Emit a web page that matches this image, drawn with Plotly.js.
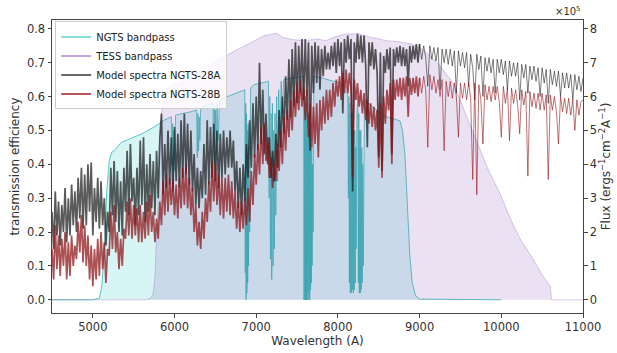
<!DOCTYPE html>
<html><head><meta charset="utf-8">
<script src="https://cdn.plot.ly/plotly-3.0.1.min.js"></script>
<style>html,body{margin:0;padding:0;background:#fff}#chart{width:617px;height:353px}</style>
</head><body><div id="chart"></div>
<script>
// ---- NGTS bandpass (transmission efficiency) ----
const waveNGTS = [4500,5000,5080,5110,5140,5170,5200,5230,5260,5350,5450,5600,5750,5870,5960,
 5970,5978,5986,5994,6002,6012,6100,6200,6270,6278,6286,6294,6302,6310,6320,6400,6470,6478,6486,6494,6502,6510,6520,6535,6550,6700,6860,
 6866,6871,6876,6881,6886,6891,6896,6901,6906,6912,6920,6932,6970,7150,
 7158,7166,7174,7182,7190,7198,7206,7214,7222,7230,7240,7250,7262,7275,7290,7305,7320,7335,7580,
 7585,7590,7595,7600,7605,7610,7615,7620,7625,7630,7635,7640,7645,7650,7655,7660,7665,7670,7675,7680,7685,7690,7697,7705,
 7800,7900,8030,8120,
 8128,8134,8140,8146,8152,8158,8164,8170,8176,8182,8188,8194,8200,8206,8212,8218,8224,8232,8244,8250,8256,8262,8268,8274,8280,8286,8292,8298,8304,8310,8318,8326,
 8400,8500,8600,8700,8760,8790,8820,8850,8880,8910,8950,9000,10000];
const transNGTS = [0,0,0.005,0.04,0.15,0.32,0.41,0.435,0.44,0.465,0.475,0.49,0.51,0.53,0.54,
 0.40,0.52,0.33,0.50,0.38,0.545,0.55,0.555,0.56,0.42,0.55,0.44,0.54,0.47,0.565,0.575,0.58,0.45,0.57,0.40,0.56,0.43,0.58,0.47,0.59,0.605,0.62,
 0.08,0.58,0.0,0.55,0.02,0.5,0.05,0.52,0.1,0.45,0.2,0.625,0.635,0.645,
 0.3,0.6,0.12,0.55,0.06,0.58,0.1,0.5,0.15,0.55,0.25,0.6,0.35,0.62,0.45,0.645,0.55,0.65,0.66,
 0.0,0.62,0.0,0.6,0.0,0.6,0.0,0.58,0.0,0.6,0.02,0.55,0.0,0.55,0.0,0.5,0.03,0.45,0.05,0.45,0.1,0.4,0.2,0.66,
 0.655,0.648,0.64,0.625,
 0.3,0.6,0.05,0.58,0.02,0.55,0.02,0.55,0.03,0.5,0.02,0.5,0.03,0.5,0.05,0.45,0.15,0.55,0.6,0.05,0.55,0.02,0.5,0.02,0.5,0.03,0.45,0.05,0.4,0.1,0.35,0.59,
 0.575,0.555,0.54,0.533,0.528,0.5,0.43,0.28,0.13,0.05,0.012,0.002,0];

// ---- TESS bandpass (transmission efficiency) ----
const waveTESS = [4500,5650,5710,5740,5760,5780,5800,5820,5840,5870,5900,6000,6100,6300,6500,6700,6900,7100,7250,7320,7450,7600,7750,7850,7950,8100,8250,8400,8600,8800,8900,9000,9130,9250,9410,9530,9660,9830,9990,10110,10230,10390,10510,10600,10615,11000];
const transTESS = [0,0,0.005,0.02,0.07,0.19,0.34,0.46,0.55,0.61,0.625,0.635,0.645,0.675,0.705,0.73,0.755,0.78,0.787,0.775,0.768,0.765,0.77,0.765,0.775,0.785,0.785,0.775,0.765,0.76,0.755,0.745,0.72,0.69,0.64,0.57,0.49,0.39,0.31,0.24,0.18,0.12,0.07,0.04,0,0];

// ---- Model spectra wavelength grid (A) ----
const waveSpec = [
4500,4520,4540,4560,4580, 4600,4620,4640,4660,4680, 4700,4720,4740,4760,4780, 4800,4820,4840,4860,4880, 4900,4920,4940,4960,4980,
5000,5020,5040,5060,5080, 5100,5120,5140,5160,5180, 5200,5220,5240,5260,5280, 5300,5320,5340,5360,5380, 5400,5420,5440,5460,5480,
5500,5520,5540,5560,5580, 5600,5620,5640,5660,5680, 5700,5720,5740,5760,5780, 5800,5820,5840,5860,5880, 5900,5920,5940,5960,5980,
6000,6020,6040,6060,6080, 6100,6120,6140,6160,6180, 6200,6220,6240,6260,6280, 6300,6320,6340,6360,6380, 6400,6420,6440,6460,6480,
6500,6520,6540,6560,6580, 6600,6620,6640,6660,6680, 6700,6720,6740,6760,6780, 6800,6820,6840,6860,6880, 6900,6920,6940,6960,6980,
7000,7020,7040,7060,7080, 7100,7120,7140,7160,7180, 7200,7220,7240,7260,7280, 7300,7320,7340,7360,7380, 7400,7420,7440,7460,7480,
7500,7520,7540,7560,7580, 7600,7620,7640,7660,7680, 7700,7720,7740,7760,7780, 7800,7820,7840,7860,7880, 7900,7920,7940,7960,7980,
8000,8020,8040,8060,8080, 8100,8120,8140,8160,8180, 8200,8220,8240,8260,8280, 8300,8320,8340,8360,8380, 8400,8420,8440,8460,8480,
8500,8520,8540,8560,8580, 8600,8620,8640,8660,8680, 8700,8720,8740,8760,8780, 8800,8820,8840,8860,8880, 8900,8920,8940,8960,8980,
9000,
9025,9050,9075,9100,9125,9150,9175,9200,9225,9250,9275,9300,9325,9350,9375,9400,9425,9450,9475,9500,
9525,9550,9575,9600,9625,9650,9675,9700,9725,9750,9775,9800,9825,9850,9875,9900,9925,9950,9975,10000,
10025,10050,10075,10100,10125,10150,10175,10200,10225,10250,10275,10300,10325,10350,10375,10400,10425,10450,10475,10500,
10525,10550,10575,10600,10625,10650,10675,10700,10725,10750,10775,10800,10825,10850,10875,10900,10925,10950,10975,11000];

// ---- Model spectrum NGTS-28A (flux, units of 1e5 erg s^-1 cm^-2 A^-1) ----
const fluxA = [
2.6,1.5,3.2,1.9,2.9, 1.6,2.8,2.0,3.3,1.7, 3.0,1.9,3.4,2.2,3.2, 2.0,3.6,2.4,3.9,2.1, 3.7,2.2,4.0,2.6,4.05,
1.9,3.3,2.3,3.6,2.1, 3.5,2.2,3.0,1.6,2.6, 2.0,3.9,2.5,4.1,2.3, 3.8,2.0,3.5,1.9,3.9, 2.6,4.4,2.5,4.6,2.9,
3.6,2.2,3.9,2.5,4.7, 2.8,4.8,2.3,4.0,2.6, 4.3,2.7,4.1,2.5,4.4, 3.0,4.8,5.5,3.1,4.6, 3.3,5.0,3.4,4.8,3.2,
5.1,3.5,4.9,3.3,5.3, 3.6,5.5,3.7,5.2,3.4, 5.0,3.2,4.3,2.8,3.9, 2.7,3.8,3.0,4.6,3.1, 5.3,3.4,5.1,3.6,5.2,
3.5,5.0,3.3,4.9,3.6, 5.0,3.7,4.8,3.9,5.0, 3.9,4.7,3.2,4.1,2.7, 3.9,2.5,4.0,2.9,4.6, 3.6,5.3,3.9,5.8,4.2,
6.0,4.4,7.0,4.6,6.2, 4.3,5.5,4.0,4.8,3.6, 4.4,3.5,4.9,3.9,5.6, 4.5,6.0,4.9,6.6,5.3, 7.1,5.4,7.4,5.7,7.6,
5.8,7.5,6.1,7.7,5.9, 7.7,6.0,7.6,4.4,7.5, 6.1,7.6,6.4,7.5,6.2, 7.4,6.6,7.5,6.8,7.3, 6.8,7.5,6.9,7.6,6.7,
7.7,6.9,7.6,5.5,7.7, 7.0,7.8,7.1,7.7,3.2, 7.6,7.0,7.85,7.1,7.8, 7.0,7.8,6.9,4.5,7.6, 6.9,7.6,6.8,7.4,6.7,
4.2,7.3,3.8,7.2,6.7, 7.4,6.8,7.45,4.3,7.4, 6.9,7.45,7.0,7.5,6.9, 7.45,6.9,7.4,6.3,7.5, 7.0,7.5,7.1,7.55,7.0,
7.55,
7.1,7.5,7.15,6.3,7.5,7.1,7.45,7.05,7.45,6.2,7.4,7.0,7.4,6.95,7.4,6.9,7.35,6.1,7.35,6.9,
7.3,6.85,7.3,6.3,7.25,6.85,5.9,7.25,6.8,7.2,6.0,7.15,6.75,7.15,6.7,7.1,6.1,7.1,6.7,7.1,
6.65,7.05,6.2,7.05,6.6,7.0,6.6,7.0,5.9,6.95,6.55,6.95,6.1,6.9,6.5,6.9,6.45,6.85,6.0,6.85,
6.4,6.8,5.8,6.8,6.35,6.75,6.3,6.75,6.0,6.7,6.25,6.7,6.25,6.65,5.9,6.65,6.2,6.6,6.15,6.55];

// ---- Model spectrum NGTS-28B (flux, units of 1e5 erg s^-1 cm^-2 A^-1) ----
const fluxB = [
1.5,0.6,2.2,0.9,1.9, 0.7,1.8,1.0,2.0,0.6, 1.7,0.7,1.9,1.0,1.6, 1.2,2.3,1.4,2.5,1.1, 2.2,1.0,1.9,0.6,1.6,
0.4,1.5,0.6,1.8,0.7, 2.0,0.9,1.7,0.5,1.5, 1.3,2.6,1.5,2.8,1.4, 2.0,0.9,1.8,1.0,2.1, 1.8,2.9,1.9,3.0,1.8,
2.8,1.9,2.7,1.7,2.8, 1.7,2.6,1.8,2.9,1.9, 3.1,2.0,2.6,1.7,2.4, 1.8,2.9,2.2,3.5,2.5, 3.7,2.6,3.6,2.8,3.5,
2.5,3.4,2.4,3.6,2.7, 3.9,2.8,4.0,2.7,3.6, 2.5,3.3,2.0,2.8,1.6, 2.3,1.5,2.6,1.8,3.0, 2.3,3.5,2.6,4.1,2.9,
4.0,2.8,3.7,2.5,3.6, 2.4,3.6,2.6,3.7,2.5, 3.5,2.4,3.2,2.1,2.9, 2.0,2.9,2.1,3.0,2.2, 3.3,2.3,3.8,2.8,4.3,
3.4,4.6,3.7,5.1,4.0, 5.2,4.1,4.8,3.6,4.2, 3.3,4.0,3.5,4.6,3.8, 5.0,4.0,5.4,4.4,5.6, 4.8,5.9,5.0,6.2,5.4,
6.4,5.6,6.5,5.7,6.3, 5.3,6.2,4.8,5.8,4.5, 5.7,4.6,5.8,4.2,5.9, 5.0,6.0,5.2,6.2,5.3, 6.2,5.4,6.4,5.7,6.5,
6.0,6.6,5.9,6.7,6.1, 6.8,6.1,6.7,6.2,3.6, 6.5,5.9,6.4,5.7,6.2, 5.5,6.1,5.3,5.9,5.2, 5.8,5.1,5.7,5.0,5.6,
3.9,5.8,3.6,6.0,5.2, 6.2,5.6,6.4,4.0,6.5, 5.9,6.5,6.0,6.55,5.9, 6.55,6.0,6.6,5.4,6.55, 6.05,6.55,6.1,6.6,6.0,
6.55,
6.1,6.6,6.2,4.5,6.65,6.2,6.6,6.1,6.5,6.0,6.5,4.4,6.45,6.0,6.45,5.95,6.4,6.0,4.8,6.4,
5.95,6.4,5.9,6.4,5.95,3.55,6.4,3.1,6.35,5.9,4.6,6.35,5.9,6.3,5.85,6.3,5.9,6.3,5.85,4.8,
6.3,5.8,6.25,4.7,6.25,5.8,6.2,5.75,4.9,6.2,5.75,6.15,3.65,6.15,5.7,6.1,5.65,6.1,5.6,6.1,
5.6,6.05,3.55,6.05,5.6,6.0,5.55,4.6,6.0,5.55,5.95,5.5,5.95,5.45,5.9,5.0,5.9,5.45,5.85,5.9];

// ---- ticks & labels ----
const xTicks = [5000,6000,7000,8000,9000,10000,11000];
const xTickText = ['5000','6000','7000','8000','9000','10000','11000'];
const yTicks = [0,0.1,0.2,0.3,0.4,0.5,0.6,0.7,0.8];
const yTickText = ['0.0','0.1','0.2','0.3','0.4','0.5','0.6','0.7','0.8'];
const y2Ticks = [0,1,2,3,4,5,6,7,8];
const y2TickText = ['0','1','2','3','4','5','6','7','8'];
const names = ['NGTS bandpass','TESS bandpass','Model spectra NGTS-28A','Model spectra NGTS-28B'];

// dense (blue) part drawn with a wider stroke, sparse (red) part thinner
const cut = waveSpec.indexOf(9000);
const colA = 'rgba(20,20,20,0.7)';
const colB = 'rgba(140,15,20,0.72)';

const traces = [
  {x: waveNGTS, y: transNGTS, type:'scatter', mode:'lines', fill:'tozeroy',
   fillcolor:'rgba(72,209,204,0.22)', line:{color:'rgba(32,178,170,0.72)', width:1, simplify:false},
   showlegend:false, yaxis:'y'},
  {x: waveTESS, y: transTESS, type:'scatter', mode:'lines', fill:'tozeroy',
   fillcolor:'rgba(148,103,189,0.2)', line:{color:'rgba(148,103,189,0.35)', width:1},
   showlegend:false, yaxis:'y'},
  {x:[null], y:[null], type:'scatter', mode:'lines', name:names[0], legendrank:1,
   line:{color:'rgb(135,222,212)', width:2}},
  {x:[null], y:[null], type:'scatter', mode:'lines', name:names[1], legendrank:2,
   line:{color:'rgb(195,165,222)', width:2}},
  {x:[null], y:[null], type:'scatter', mode:'lines', name:names[2], legendrank:3,
   line:{color:'rgb(105,105,105)', width:2}},
  {x:[null], y:[null], type:'scatter', mode:'lines', name:names[3], legendrank:4,
   line:{color:'rgb(185,85,88)', width:2}},
  {x: waveSpec.slice(0, cut+1), y: fluxA.slice(0, cut+1), type:'scatter', mode:'lines', showlegend:false,
   line:{color:colA, width:1.7, simplify:false}, yaxis:'y2'},
  {x: waveSpec.slice(cut), y: fluxA.slice(cut), type:'scatter', mode:'lines', showlegend:false,
   line:{color:'rgba(20,20,20,0.55)', width:1.0, simplify:false}, yaxis:'y2'},
  {x: waveSpec.slice(0, cut+1), y: fluxB.slice(0, cut+1), type:'scatter', mode:'lines', showlegend:false,
   line:{color:colB, width:1.7, simplify:false}, yaxis:'y2'},
  {x: waveSpec.slice(cut), y: fluxB.slice(cut), type:'scatter', mode:'lines', showlegend:false,
   line:{color:'rgba(150,20,25,0.6)', width:1.0, simplify:false}, yaxis:'y2'}
];

const axisCommon = {ticks:'outside', ticklen:3.5, tickwidth:1, tickcolor:'#444',
  showline:true, linecolor:'#444', linewidth:1, showgrid:false, zeroline:false,
  tickfont:{size:11.5, color:'#333'}};

const layout = {
  width:617, height:353,
  margin:{l:52, r:34, t:20, b:40, pad:0},
  paper_bgcolor:'#fff', plot_bgcolor:'#fff',
  font:{family:'DejaVu Sans, sans-serif', size:11.5, color:'#333'},
  xaxis: Object.assign({}, axisCommon, {range:[4500,11000], tickmode:'array', tickvals:xTicks,
     ticktext:xTickText, mirror:true, title:{text:'Wavelength (A)', font:{size:12}, standoff:3}}),
  yaxis: Object.assign({}, axisCommon, {range:[-0.039,0.826], tickmode:'array', tickvals:yTicks,
     ticktext:yTickText, title:{text:'transmission efficiency', font:{size:12}, standoff:4}}),
  yaxis2: Object.assign({}, axisCommon, {range:[-0.39,8.26], tickmode:'array', tickvals:y2Ticks,
     ticktext:y2TickText, overlaying:'y', side:'right',
     title:{text:'Flux (ergs<sup>\u22121</sup>cm<sup>\u22122</sup>A<sup>\u22121</sup>)', font:{size:12}, standoff:4}}),
  legend:{x:0.006, y:0.995, xanchor:'left', yanchor:'top', bgcolor:'rgba(255,255,255,0.8)',
     bordercolor:'#ccc', borderwidth:1, font:{size:10, color:'#222'}, traceorder:'normal',
     tracegroupgap:0},
  annotations:[{text:'\u00d710<sup>5</sup>', xref:'paper', yref:'paper', x:1, y:1,
     xanchor:'right', yanchor:'bottom', yshift:1, showarrow:false, font:{size:10, color:'#333'}}],
  showlegend:true
};

Plotly.newPlot('chart', traces, layout, {staticPlot:true, displayModeBar:false});
</script>
</body></html>
